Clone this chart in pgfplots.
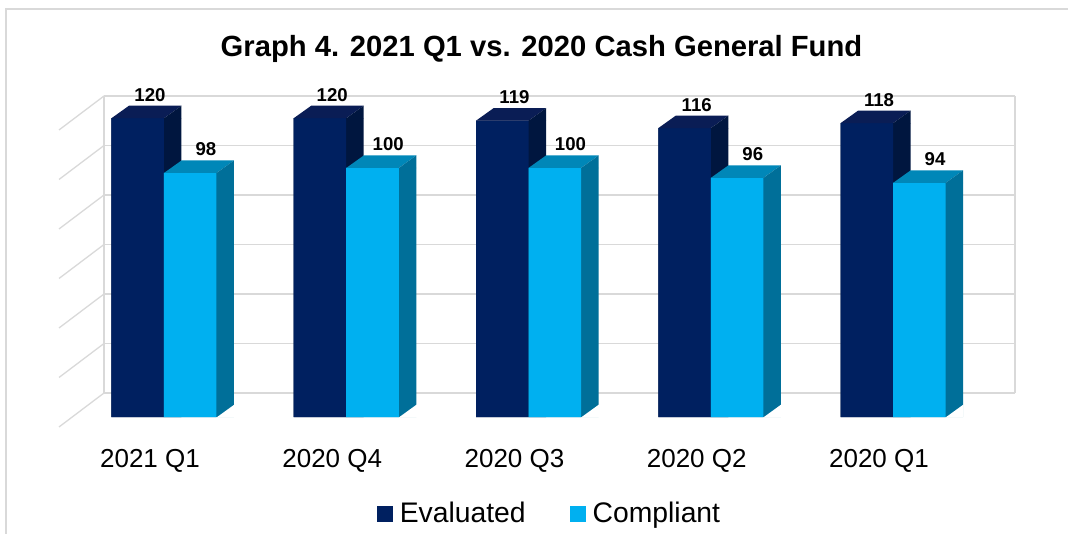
\documentclass[border=0pt]{standalone}
\usepackage{pgfplots}
\pgfplotsset{compat=1.18}
\usepackage{pgfplotstable}
\usepackage{fontspec}
\setmainfont{Liberation Sans}
\definecolor{evfront}{HTML}{002060}
\definecolor{evtop}{HTML}{0A1D55}
\definecolor{evside}{HTML}{00163F}
\definecolor{cofront}{HTML}{00B0F0}
\definecolor{cotop}{HTML}{0087B8}
\definecolor{coside}{HTML}{006F99}
\definecolor{gridgray}{HTML}{D9D9D9}
% top face (and upper corner of the side face) of a 3D bar, drawn at the top front edge
\pgfdeclareplotmark{evtopm}{%
  \pgfsetfillcolor{evtop}%
  \pgfpathmoveto{\pgfqpoint{-52.5pt}{0pt}}\pgfpathlineto{\pgfqpoint{0pt}{0pt}}%
  \pgfpathlineto{\pgfqpoint{17.5pt}{12.5pt}}\pgfpathlineto{\pgfqpoint{-35pt}{12.5pt}}%
  \pgfpathclose\pgfusepath{fill}%
  \pgfsetfillcolor{evside}%
  \pgfpathmoveto{\pgfqpoint{-0.2pt}{-0.2pt}}\pgfpathlineto{\pgfqpoint{17.5pt}{12.5pt}}%
  \pgfpathlineto{\pgfqpoint{17.5pt}{-0.2pt}}\pgfpathclose\pgfusepath{fill}%
}
\pgfdeclareplotmark{cotopm}{%
  \pgfsetfillcolor{cotop}%
  \pgfpathmoveto{\pgfqpoint{0pt}{0pt}}\pgfpathlineto{\pgfqpoint{52.5pt}{0pt}}%
  \pgfpathlineto{\pgfqpoint{70pt}{12.5pt}}\pgfpathlineto{\pgfqpoint{17.5pt}{12.5pt}}%
  \pgfpathclose\pgfusepath{fill}%
  \pgfsetfillcolor{coside}%
  \pgfpathmoveto{\pgfqpoint{52.3pt}{-0.2pt}}\pgfpathlineto{\pgfqpoint{70pt}{12.5pt}}%
  \pgfpathlineto{\pgfqpoint{70pt}{-0.2pt}}\pgfpathclose\pgfusepath{fill}%
}
% lower corner of the side face that lies below the slanted bottom edge
\pgfdeclareplotmark{cobotm}{%
  \pgfsetfillcolor{white}%
  \pgfpathmoveto{\pgfqpoint{52.5pt}{-0.5pt}}\pgfpathlineto{\pgfqpoint{70.5pt}{-0.5pt}}%
  \pgfpathlineto{\pgfqpoint{70.5pt}{12.5pt}}\pgfpathclose\pgfusepath{fill}%
}
\pgfplotstableread{
idx ev co
0 120 98
1 120 100
2 119 100
3 116 96
4 118 94
}\data
\begin{document}
\begin{tikzpicture}
\useasboundingbox (0,0) rectangle (1068pt,533pt);
\draw[gridgray, line width=1.2pt] (6pt,-2pt) -- (6pt,524pt) -- (1070pt,524pt);
\node[anchor=base, font=\fontsize{29.2pt}{34pt}\selectfont\bfseries] at (541.5pt,476pt) {Graph 4. 2021 Q1 vs. 2020 Cash General Fund};
\begin{axis}[
  at={(104pt,116pt)}, anchor=south west,
  x=182.25pt, y=2.49pt,
  xmin=-0.3292, xmax=4.6694, ymin=0, ymax=128.92,
  clip=false,
  /pgf/number format/assume math mode=true,
  axis line style={draw=none},
  ytick={9.64,29.52,49.40,69.28,89.16,109.04,128.92},
  yticklabels={,,,,,,},
  ymajorgrids, grid style={draw=gridgray, line width=1.3pt},
  major tick length=0pt,
  xtick={0,1,2,3,4},
  xticklabels={2021 Q1,2020 Q4,2020 Q3,2020 Q2,2020 Q1},
  xticklabel style={font=\fontsize{26pt}{30pt}\selectfont, anchor=base, yshift=-50pt, xshift=-14pt},
  legend columns=2,
  legend style={at={(0.4879,-0.296)}, anchor=center, draw=none, fill=none,
    font=\fontsize{28.3pt}{32pt}\selectfont,
    nodes={inner sep=0pt, text height=20pt, text depth=0pt},
    cells={anchor=west},
    /tikz/every odd column/.append style={column sep=7pt},
    /tikz/every even column/.append style={column sep=44pt}},
]
\draw[gridgray, line width=1.3pt] (axis cs:-0.3292,9.64) -- (axis cs:-0.3292,128.92);
\draw[gridgray, line width=1.3pt] (axis cs:4.6694,9.64) -- (axis cs:4.6694,128.92);
\pgfplotsinvokeforeach{9.64,29.52,49.40,69.28,89.16,109.04,128.92}{
  \draw[gridgray, line width=1.3pt] (axis cs:-0.3292,#1) -- ++(-45pt,-34pt);
}
% Evaluated
\addplot[ybar, bar width=70pt, bar shift=-17.5pt, fill=evside, draw=none, forget plot]
  table[x=idx, y=ev] {\data};
\addplot[ybar, bar width=52.5pt, bar shift=-26.25pt, fill=evfront, draw=none,
  legend image code/.code={\fill[evfront] (0pt,-10pt) rectangle (16pt,6pt);}]
  table[x=idx, y=ev] {\data};
\addlegendentry{Evaluated}
\addplot[only marks, mark=evtopm, forget plot, point meta=y,
  nodes near coords,
  nodes near coords style={font=\fontsize{18.6pt}{22pt}\selectfont\bfseries, color=black, anchor=base, yshift=17pt, xshift=-14pt, inner sep=0pt}]
  table[x=idx, y=ev] {\data};
% Compliant
\addplot[ybar, bar width=70pt, bar shift=35pt, fill=coside, draw=none, forget plot]
  table[x=idx, y=co] {\data};
\addplot[ybar, bar width=52.5pt, bar shift=26.25pt, fill=cofront, draw=none,
  legend image code/.code={\fill[cofront] (0pt,-10pt) rectangle (16pt,6pt);}]
  table[x=idx, y=co] {\data};
\addlegendentry{Compliant}
\addplot[only marks, mark=cotopm, forget plot, point meta=y,
  nodes near coords,
  nodes near coords style={font=\fontsize{18.6pt}{22pt}\selectfont\bfseries, color=black, anchor=base, yshift=17pt, xshift=42pt, inner sep=0pt}]
  table[x=idx, y=co] {\data};
\addplot[only marks, mark=cobotm, forget plot] table[x=idx, y expr=0] {\data};
\end{axis}
\end{tikzpicture}
\end{document}
